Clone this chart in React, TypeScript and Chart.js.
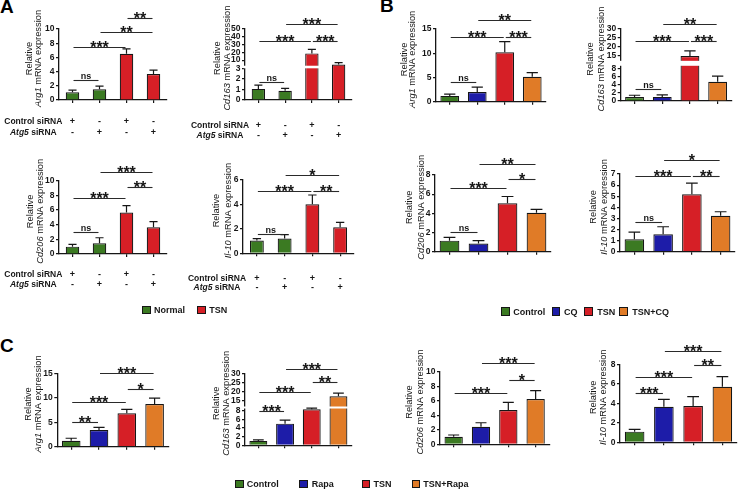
import React, { useEffect, useRef } from 'react';
import { Chart, registerables, LinearScale } from 'chart.js';

Chart.register(...registerables);

// ---------------- DATA ----------------
type Sig = [number, number, string, number];

const groupsA = ['Normal / Control siRNA', 'Normal / Atg5 siRNA', 'TSN / Control siRNA', 'TSN / Atg5 siRNA'];
const controlSiRNA = ['+', '-', '+', '-'];
const atg5SiRNA = ['-', '+', '-', '+'];
const groupsB = ['Control', 'CQ', 'TSN', 'TSN+CQ'];
const groupsC = ['Control', 'Rapa', 'TSN', 'TSN+Rapa'];
const legendA = ['Normal', 'TSN'];

// Panel A
const arg1A = [1.1, 1.5, 6.5, 3.65];
const arg1AErr = [0.3, 0.45, 0.7, 0.55];
const arg1ATicks = [0, 2, 4, 6, 8, 10];
const arg1ASig: Sig[] = [[0, 1, 'ns', 2.8], [0, 2, '***', 7.5], [1, 3, '**', 9.6], [2, 3, '**', 11.55]];

const cd163A = [1.05, 0.88, 18.5, 4.5];
const cd163AErr = [0.35, 0.22, 5, 2.5];
const cd163ATicks = [0, 1, 2, 3, 10, 20, 30, 40, 50];
const cd163ASig: Sig[] = [[0, 1, 'ns', 1.73], [0, 2, '***', 34.4], [2, 3, '***', 34.4], [1, 3, '***', 55]];

const cd206A = [1.0, 1.45, 5.65, 3.65];
const cd206AErr = [0.3, 0.77, 0.95, 0.77];
const cd206ATicks = [0, 2, 4, 6, 8, 10];
const cd206ASig: Sig[] = [[0, 1, 'ns', 2.96], [0, 2, '***', 7.7], [2, 3, '**', 9.1], [1, 3, '***', 11.15]];

const il10A = [1.05, 1.2, 4.0, 2.12];
const il10AErr = [0.15, 0.33, 0.76, 0.41];
const il10ATicks = [0, 2, 4, 6];
const il10ASig: Sig[] = [[0, 1, 'ns', 1.58], [0, 2, '***', 5.08], [2, 3, '**', 5.08], [1, 3, '*', 6.39]];

// Panel B
const arg1B = [1.2, 2.0, 10.2, 5.15];
const arg1BErr = [0.35, 1.0, 2.2, 0.85];
const arg1BTicks = [0, 5, 10, 15];
const arg1BSig: Sig[] = [[0, 1, 'ns', 4.0], [0, 2, '***', 13.4], [2, 3, '***', 13.4], [1, 3, '**', 16.8]];

const cd163B = [0.95, 1.0, 15.0, 4.7];
const cd163BErr = [0.45, 0.5, 2.8, 1.4];
const cd163BTicks = [0, 2, 4, 6, 8, 15, 20, 25, 30];
const cd163BSig: Sig[] = [[0, 1, 'ns', 2.86], [0, 2, '***', 23.5], [2, 3, '***', 23.5], [1, 3, '**', 32.8]];

const cd206B = [1.15, 0.85, 5.05, 4.06];
const cd206BErr = [0.35, 0.3, 0.7, 0.35];
const cd206BTicks = [0, 2, 4, 6, 8];
const cd206BSig: Sig[] = [[0, 1, 'ns', 2.05], [0, 2, '***', 6.65], [2, 3, '*', 7.55], [1, 3, '**', 9.1]];

const il10B = [1.12, 1.57, 5.17, 3.24];
const il10BErr = [0.65, 0.68, 1.0, 0.36];
const il10BTicks = [0, 1, 2, 3, 4, 5, 6, 7];
const il10BSig: Sig[] = [[0, 1, 'ns', 2.7], [0, 2, '***', 6.85], [2, 3, '**', 6.85], [1, 3, '*', 8.26]];

// Panel C
const arg1C = [1.23, 3.41, 6.83, 8.73];
const arg1CErr = [0.5, 0.55, 0.8, 1.2];
const arg1CTicks = [0, 5, 10, 15];
const arg1CSig: Sig[] = [[0, 1, '**', 5.1], [0, 2, '***', 9.2], [2, 3, '*', 11.8], [1, 3, '***', 15.0]];

const cd163C = [1.02, 5.0, 8.3, 17.5];
const cd163CErr = [0.25, 0.8, 1.0, 1.8];
const cd163CTicks = [0, 2, 4, 6, 8, 15, 20, 25, 30];
const cd163CSig: Sig[] = [[0, 1, '***', 7.9], [0, 2, '***', 19.9], [2, 3, '**', 25.1], [1, 3, '***', 32.5]];

const cd206C = [1.05, 2.42, 4.72, 6.24];
const cd206CErr = [0.23, 0.55, 1.06, 1.14];
const cd206CTicks = [0, 2, 4, 6, 8, 10];
const cd206CSig: Sig[] = [[0, 2, '***', 7.1], [2, 3, '*', 8.86], [1, 3, '***', 11.24]];

const il10C = [1.09, 3.65, 3.72, 5.7];
const il10CErr = [0.24, 0.76, 0.96, 1.03];
const il10CTicks = [0, 2, 4, 6, 8];
const il10CSig: Sig[] = [[0, 1, '***', 5.09], [0, 2, '***', 6.67], [2, 3, '**', 7.93], [1, 3, '***', 9.4]];

// ---------------- STYLE ----------------
const FONT = "'Liberation Sans', Arial, Helvetica, sans-serif";
const INK = '#161616';
const GREEN = '#3b7a22';
const RED = '#d61f26';
const BLUE = '#1d1ca8';
const ORANGE = '#e07b27';
const colorsA = [GREEN, GREEN, RED, RED];
const colorsBC = [GREEN, BLUE, RED, ORANGE];
const Y_W = 30;
const X_H = 3;

// Broken (segmented) linear axis, like GraphPad Prism
class BrokenLinearScale extends LinearScale {
  static id = 'brokenLinear';
  static defaults = LinearScale.defaults;
  getPixelForValue(value: any) {
    const b = (this.options as any).brk;
    if (value === null || value === undefined || isNaN(value)) return NaN;
    if (!b) return super.getPixelForValue(value);
    const lowEnd = b.lowFrac;
    const highStart = b.lowFrac + b.gapFrac;
    let dec: number;
    if (value <= b.lowMax) dec = ((value - (this as any).min) / (b.lowMax - (this as any).min)) * lowEnd;
    else if (value < b.highMin) dec = lowEnd + ((value - b.lowMax) / (b.highMin - b.lowMax)) * b.gapFrac;
    else dec = highStart + ((value - b.highMin) / ((this as any).max - b.highMin)) * (1 - highStart);
    return this.getPixelForDecimal(dec);
  }
  getValueForPixel(pixel: number) {
    const b = (this.options as any).brk;
    if (!b) return super.getValueForPixel(pixel);
    const dec = this.getDecimalForPixel(pixel);
    const highStart = b.lowFrac + b.gapFrac;
    if (dec <= b.lowFrac) return (this as any).min + (dec / b.lowFrac) * (b.lowMax - (this as any).min);
    if (dec < highStart) return b.lowMax;
    return b.highMin + ((dec - highStart) / (1 - highStart)) * ((this as any).max - b.highMin);
  }
}
Chart.register(BrokenLinearScale as any);
Chart.defaults.font.family = FONT;

interface Part { t: string; italic?: boolean }
interface PanelDef {
  gene: string;
  cats: string[];
  values: number[];
  errs: number[];
  sig: Sig[];
  ticks: number[];
  colors: string[];
  barFrac: number;
  area: { x0: number; x1: number; yTop: number; yBot: number };
  brk?: { lowMax: number; highMin: number; lowFrac: number; gapFrac: number };
  titleDx: [number, number];
  table?: { dy: [number, number]; dx: number };
}

const panels: PanelDef[] = [
  { gene: 'Arg1', cats: groupsA, values: arg1A, errs: arg1AErr, sig: arg1ASig, ticks: arg1ATicks, colors: colorsA, barFrac: 0.5,
    area: { x0: 59, x1: 167, yTop: 29, yBot: 100 }, titleDx: [-29.3, -21], table: { dy: [21.7, 32.3], dx: -25.7 } },
  { gene: 'Cd163', cats: groupsA, values: cd163A, errs: cd163AErr, sig: cd163ASig, ticks: cd163ATicks, colors: colorsA, barFrac: 0.5,
    area: { x0: 245, x1: 352, yTop: 28.3, yBot: 100 }, brk: { lowMax: 3, highMin: 3, lowFrac: 0.442, gapFrac: 0.036 },
    titleDx: [-27.5, -17.5], table: { dy: [26, 35.7], dx: -25 } },
  { gene: 'Cd206', cats: groupsA, values: cd206A, errs: cd206AErr, sig: cd206ASig, ticks: cd206ATicks, colors: colorsA, barFrac: 0.5,
    area: { x0: 59, x1: 167, yTop: 180.7, yBot: 254 }, titleDx: [-28.5, -19], table: { dy: [21, 31], dx: -25.7 } },
  { gene: 'Il-10', cats: groupsA, values: il10A, errs: il10AErr, sig: il10ASig, ticks: il10ATicks, colors: colorsA, barFrac: 0.5,
    area: { x0: 243, x1: 354, yTop: 179.8, yBot: 253.3 }, titleDx: [-26.3, -14.7], table: { dy: [25, 34], dx: -26 } },

  { gene: 'Arg1', cats: groupsB, values: arg1B, errs: arg1BErr, sig: arg1BSig, ticks: arg1BTicks, colors: colorsBC, barFrac: 0.68,
    area: { x0: 436, x1: 546, yTop: 29, yBot: 101.7 }, titleDx: [-31.5, -23.5] },
  { gene: 'Cd163', cats: groupsB, values: cd163B, errs: cd163BErr, sig: cd163BSig, ticks: cd163BTicks, colors: colorsBC, barFrac: 0.68,
    area: { x0: 620.7, x1: 731.5, yTop: 29, yBot: 101 }, brk: { lowMax: 8.6, highMin: 12.3, lowFrac: 0.489, gapFrac: 0.069 },
    titleDx: [-30.7, -19] },
  { gene: 'Cd206', cats: groupsB, values: cd206B, errs: cd206BErr, sig: cd206BSig, ticks: cd206BTicks, colors: colorsBC, barFrac: 0.68,
    area: { x0: 435, x1: 551, yTop: 174.9, yBot: 251.7 }, titleDx: [-26, -14] },
  { gene: 'Il-10', cats: groupsB, values: il10B, errs: il10BErr, sig: il10BSig, ticks: il10BTicks, colors: colorsBC, barFrac: 0.68,
    area: { x0: 620, x1: 735, yTop: 174, yBot: 251.7 }, titleDx: [-26.7, -16] },

  { gene: 'Arg1', cats: groupsC, values: arg1C, errs: arg1CErr, sig: arg1CSig, ticks: arg1CTicks, colors: colorsBC, barFrac: 0.67,
    area: { x0: 57.3, x1: 168.5, yTop: 373.3, yBot: 446.7 }, titleDx: [-29, -19] },
  { gene: 'Cd163', cats: groupsC, values: cd163C, errs: cd163CErr, sig: cd163CSig, ticks: cd163CTicks, colors: colorsBC, barFrac: 0.67,
    area: { x0: 245, x1: 351.8, yTop: 373.3, yBot: 445.3 }, brk: { lowMax: 8.5, highMin: 12, lowFrac: 0.511, gapFrac: 0.028 },
    titleDx: [-29, -18.3] },
  { gene: 'Cd206', cats: groupsC, values: cd206C, errs: cd206CErr, sig: cd206CSig, ticks: cd206CTicks, colors: colorsBC, barFrac: 0.67,
    area: { x0: 440, x1: 549.3, yTop: 371.7, yBot: 444.3 }, titleDx: [-30.7, -20] },
  { gene: 'Il-10', cats: groupsC, values: il10C, errs: il10CErr, sig: il10CSig, ticks: il10CTicks, colors: colorsBC, barFrac: 0.67,
    area: { x0: 620, x1: 737, yTop: 364.3, yBot: 442.3 }, titleDx: [-26.7, -16.7] },
];

function drawParts(ctx: CanvasRenderingContext2D, parts: Part[], x: number, y: number, size: number, weight: string) {
  const fontFor = (it?: boolean) => `${it ? 'italic ' : ''}${weight} ${size}px ${FONT}`;
  let total = 0;
  const widths = parts.map((p) => {
    ctx.font = fontFor(p.italic);
    const w = ctx.measureText(p.t).width;
    total += w;
    return w;
  });
  let cx = x - total / 2;
  ctx.textAlign = 'left';
  parts.forEach((p, i) => {
    ctx.font = fontFor(p.italic);
    ctx.fillText(p.t, cx, y);
    cx += widths[i];
  });
}

function makeDecor(p: PanelDef) {
  return {
    id: 'decor',
    afterDatasetsDraw(chart: any) {
      const ctx: CanvasRenderingContext2D = chart.ctx;
      const xs = chart.scales.x;
      const ys = chart.scales.y;
      const ca = chart.chartArea;
      const meta = chart.getDatasetMeta(0);
      ctx.save();
      // axis break
      if (p.brk) {
        const gBot = ys.getPixelForDecimal(p.brk.lowFrac);
        const gTop = ys.getPixelForDecimal(p.brk.lowFrac + p.brk.gapFrac);
        ctx.fillStyle = '#ffffff';
        ctx.fillRect(ca.left - 1.5, gTop, 3, gBot - gTop);
        meta.data.forEach((bar: any) => {
          if (bar.y < gTop - 3) ctx.fillRect(bar.x - bar.width / 2 - 1, gTop, bar.width + 2, gBot - gTop);
        });
      }
      // error bars
      ctx.strokeStyle = INK;
      ctx.lineWidth = 1.2;
      meta.data.forEach((bar: any, i: number) => {
        const v = p.values[i];
        const e = p.errs[i];
        const yv = ys.getPixelForValue(v);
        const ye = ys.getPixelForValue(v + e);
        const cw = bar.width * 0.6;
        ctx.beginPath();
        ctx.moveTo(bar.x, yv);
        ctx.lineTo(bar.x, ye);
        ctx.moveTo(bar.x - cw / 2, ye);
        ctx.lineTo(bar.x + cw / 2, ye);
        ctx.stroke();
      });
      // significance brackets
      p.sig.forEach(([i, j, label, yv]) => {
        const y = Math.round(ys.getPixelForValue(yv)) + 0.5;
        const x1 = xs.getPixelForTick(i) + 1;
        const x2 = xs.getPixelForTick(j) - 1;
        ctx.strokeStyle = '#2a2a2a';
        ctx.lineWidth = 1.1;
        ctx.beginPath();
        ctx.moveTo(x1, y);
        ctx.lineTo(x2, y);
        ctx.stroke();
        ctx.fillStyle = INK;
        ctx.textAlign = 'center';
        ctx.textBaseline = 'alphabetic';
        if (label.startsWith('*')) {
          ctx.font = `bold 16px ${FONT}`;
          ctx.fillText(label, (x1 + x2) / 2, y + 5.2);
        } else {
          ctx.font = `bold 9px ${FONT}`;
          ctx.fillText(label, (x1 + x2) / 2, y - 2);
        }
      });
      // y title (two rotated lines)
      const yc = (ca.top + ca.bottom) / 2 - 6;
      ctx.fillStyle = INK;
      ctx.textBaseline = 'middle';
      const lines: Part[][] = [[{ t: 'Relative' }], [{ t: p.gene, italic: true }, { t: ' mRNA expression' }]];
      lines.forEach((parts, k) => {
        ctx.save();
        ctx.translate(ca.left + p.titleDx[k], yc);
        ctx.rotate(-Math.PI / 2);
        drawParts(ctx, parts, 0, 0, 9.3, 'normal');
        ctx.restore();
      });
      // treatment table
      if (p.table) {
        const rows: { parts: Part[]; marks: string[] }[] = [
          { parts: [{ t: 'Control siRNA' }], marks: controlSiRNA },
          { parts: [{ t: 'Atg5', italic: true }, { t: ' siRNA' }], marks: atg5SiRNA },
        ];
        rows.forEach((r, k) => {
          const y = ca.bottom + p.table!.dy[k];
          ctx.textBaseline = 'middle';
          drawParts(ctx, r.parts, ca.left + p.table!.dx, y, 8.5, 'bold');
          ctx.font = `bold 9px ${FONT}`;
          ctx.textAlign = 'center';
          r.marks.forEach((m, i) => ctx.fillText(m, xs.getPixelForTick(i), y));
        });
      }
      ctx.restore();
    },
  };
}

function Panel({ p }: { p: PanelDef }) {
  const ref = useRef<HTMLCanvasElement>(null);
  const { x0, x1, yTop, yBot } = p.area;
  const cx = Math.floor(x0 - 70);
  const cy = Math.max(0, Math.floor(yTop - 32));
  const cw = Math.ceil(x1 + 6) - cx;
  const ch = Math.ceil(yBot + 45) - cy;
  useEffect(() => {
    const padding = { left: x0 - cx - Y_W, right: cx + cw - x1, top: yTop - cy, bottom: cy + ch - yBot - X_H };
    const tickVals = p.ticks;
    const chart = new Chart(ref.current as HTMLCanvasElement, {
      type: 'bar',
      data: {
        labels: p.cats,
        datasets: [
          {
            data: p.values,
            backgroundColor: p.colors,
            borderColor: INK,
            borderWidth: 1.2,
            barPercentage: p.barFrac,
            categoryPercentage: 1,
          },
        ],
      },
      options: {
        responsive: false,
        animation: false,
        devicePixelRatio: 1,
        events: [],
        layout: { padding },
        plugins: { legend: { display: false }, tooltip: { enabled: false } },
        scales: {
          x: {
            type: 'category',
            offset: true,
            grid: { display: true, drawOnChartArea: false, offset: false, tickLength: 3, color: INK, lineWidth: 1.2 },
            border: { display: true, color: INK, width: 1.3 },
            ticks: { display: false },
            afterFit: (s: any) => { s.height = X_H; },
          },
          y: {
            type: (p.brk ? 'brokenLinear' : 'linear') as any,
            min: 0,
            max: tickVals[tickVals.length - 1],
            brk: p.brk,
            grid: { drawOnChartArea: false, tickLength: 3, color: INK, lineWidth: 1.2 },
            border: { display: true, color: INK, width: 1.3 },
            ticks: {
              autoSkip: false,
              padding: 1.5,
              color: INK,
              font: { family: FONT, size: 8.5, weight: 'bold' },
              callback: (v: any) => String(v),
            },
            afterBuildTicks: (s: any) => { s.ticks = tickVals.map((v) => ({ value: v })); },
            afterFit: (s: any) => { s.width = Y_W; },
          } as any,
        },
      },
      plugins: [makeDecor(p)],
    } as any);
    return () => chart.destroy();
  }, []);
  return (
    <canvas ref={ref} width={cw} height={ch} style={{ position: 'absolute', left: cx, top: cy, width: cw, height: ch }} />
  );
}

interface LegendItem { label: string; color: string; sq: number; tx: number }

function Legend({ items, yc }: { items: LegendItem[]; yc: number }) {
  return (
    <>
      {items.map((it) => (
        <React.Fragment key={it.label}>
          <div style={{ position: 'absolute', left: it.sq, top: yc - 4.2, width: 6.5, height: 6.5, background: it.color, border: `1px solid ${INK}` }} />
          <div style={{ position: 'absolute', left: it.tx, top: yc - 6, height: 12, lineHeight: '12px', fontSize: 9, fontWeight: 'bold', color: INK, whiteSpace: 'nowrap' }}>
            {it.label}
          </div>
        </React.Fragment>
      ))}
    </>
  );
}

const legendItemsA: LegendItem[] = [
  { label: legendA[0], color: GREEN, sq: 142.3, tx: 154 },
  { label: legendA[1], color: RED, sq: 197.3, tx: 209.3 },
];
const legendItemsB: LegendItem[] = [
  { label: groupsB[0], color: GREEN, sq: 501, tx: 513.3 },
  { label: groupsB[1], color: BLUE, sq: 551.7, tx: 564 },
  { label: groupsB[2], color: RED, sq: 584.3, tx: 597.3 },
  { label: groupsB[3], color: ORANGE, sq: 619.3, tx: 632.3 },
];
const legendItemsC: LegendItem[] = [
  { label: groupsC[0], color: GREEN, sq: 235, tx: 246.7 },
  { label: groupsC[1], color: BLUE, sq: 299.3, tx: 311.7 },
  { label: groupsC[2], color: RED, sq: 361.7, tx: 373.5 },
  { label: groupsC[3], color: ORANGE, sq: 411.7, tx: 423.3 },
];

const letterStyle: React.CSSProperties = { position: 'absolute', fontSize: 19, lineHeight: '19px', fontWeight: 'bold', color: '#000' };

export default function App() {
  useEffect(() => {
    document.body.style.margin = '0';
    document.body.style.overflow = 'hidden';
  }, []);
  return (
    <div style={{ position: 'absolute', left: 0, top: 0, width: 738, height: 489, overflow: 'hidden', background: '#fff', fontFamily: FONT }}>
      <div style={{ ...letterStyle, left: 0, top: -2.8 }}>A</div>
      <div style={{ ...letterStyle, left: 380, top: -4.4 }}>B</div>
      <div style={{ ...letterStyle, left: 0, top: 335.9 }}>C</div>
      {panels.map((p, k) => (
        <Panel key={k} p={p} />
      ))}
      <Legend items={legendItemsA} yc={310} />
      <Legend items={legendItemsB} yc={311.5} />
      <Legend items={legendItemsC} yc={484} />
    </div>
  );
}
